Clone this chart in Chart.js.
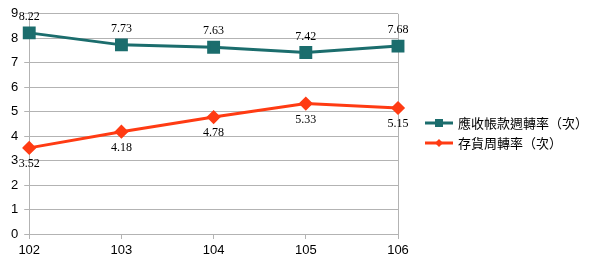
<!DOCTYPE html>
<html>
<head>
<meta charset="utf-8">
<script src="https://cdn.jsdelivr.net/npm/chart.js@4"></script>
<style>
  html, body { margin: 0; padding: 0; background: #fff; }
  #wrap { width: 600px; height: 263px; }
</style>
</head>
<body>
<div id="wrap"><canvas id="chart"></canvas></div>
<script>
const years = ['102', '103', '104', '105', '106'];
const receivableTurnover = [8.22, 7.73, 7.63, 7.42, 7.68];
const inventoryTurnover = [3.52, 4.18, 4.78, 5.33, 5.15];
const yTicks = [0, 1, 2, 3, 4, 5, 6, 7, 8, 9];

const TEAL = '#1b6d6d';
const RED = '#ff3b13';

// value labels: first series above the points, second below
const valueLabels = {
  id: 'valueLabels',
  afterDatasetsDraw(chart) {
    const ctx = chart.ctx;
    ctx.save();
    ctx.font = '12px "Liberation Serif"';
    ctx.fillStyle = '#000';
    ctx.textAlign = 'center';
    ctx.textBaseline = 'middle';
    chart.data.datasets.forEach((ds, i) => {
      const meta = chart.getDatasetMeta(i);
      meta.data.forEach((pt, j) => {
        const dy = i === 0 ? -16 : 16;
        ctx.fillText(ds.data[j].toFixed(2), pt.x, pt.y + dy);
      });
    });
    ctx.restore();
  }
};

// legend to the right of the plot: line + marker, then the label
const sideLegend = {
  id: 'sideLegend',
  afterDraw(chart) {
    const ctx = chart.ctx;
    const x0 = chart.chartArea.right + 27;
    const yMid = 133;
    ctx.save();
    ctx.font = '13px "Noto Sans CJK TC"';
    ctx.textBaseline = 'middle';
    chart.data.datasets.forEach((ds, i) => {
      const y = yMid - 10 + i * 20;
      ctx.strokeStyle = ds.borderColor;
      ctx.fillStyle = ds.borderColor;
      ctx.lineWidth = 3;
      ctx.beginPath(); ctx.moveTo(x0, y); ctx.lineTo(x0 + 28, y); ctx.stroke();
      const cx = x0 + 14;
      if (i === 0) {
        ctx.fillRect(cx - 4, y - 4, 8, 8);
      } else {
        ctx.beginPath();
        ctx.moveTo(cx, y - 4); ctx.lineTo(cx + 4, y); ctx.lineTo(cx, y + 4); ctx.lineTo(cx - 4, y);
        ctx.closePath(); ctx.fill();
      }
      ctx.fillStyle = '#000';
      ctx.fillText(ds.label, x0 + 33, y);
    });
    ctx.restore();
  }
};

new Chart(document.getElementById('chart'), {
  type: 'line',
  data: {
    labels: years,
    datasets: [
      {
        label: '應收帳款週轉率（次）',
        data: receivableTurnover,
        borderColor: TEAL,
        backgroundColor: TEAL,
        borderWidth: 3,
        pointStyle: 'rect',
        pointRadius: 7,
        pointHoverRadius: 7,
        tension: 0
      },
      {
        label: '存貨周轉率（次）',
        data: inventoryTurnover,
        borderColor: RED,
        backgroundColor: RED,
        borderWidth: 3,
        pointStyle: 'rectRot',
        pointRadius: 5,
        pointHoverRadius: 5,
        tension: 0
      }
    ]
  },
  options: {
    responsive: true,
    maintainAspectRatio: false,
    animation: false,
    layout: { padding: { top: 5, right: 202, left: 5, bottom: 1 } },
    plugins: {
      tooltip: { enabled: false },
      legend: { display: false }
    },
    scales: {
      x: {
        offset: false,
        grid: {
          color: (c) => c.index === years.length - 1 ? '#b3b3b3' : 'rgba(0,0,0,0)',
          tickColor: '#b3b3b3',
          tickLength: 5
        },
        border: { color: '#b3b3b3' },
        ticks: { color: '#000', font: { family: '"Liberation Sans"', size: 13, lineHeight: 1 }, padding: 5 }
      },
      y: {
        min: yTicks[0],
        max: yTicks[yTicks.length - 1],
        afterBuildTicks(axis) { axis.ticks = yTicks.map(v => ({ value: v })); },
        grid: { color: '#b3b3b3', tickLength: 5 },
        border: { color: '#b3b3b3' },
        ticks: { color: '#000', font: { family: '"Liberation Sans"', size: 13 }, padding: 6 }
      }
    }
  },
  plugins: [valueLabels, sideLegend]
});
</script>
</body>
</html>
